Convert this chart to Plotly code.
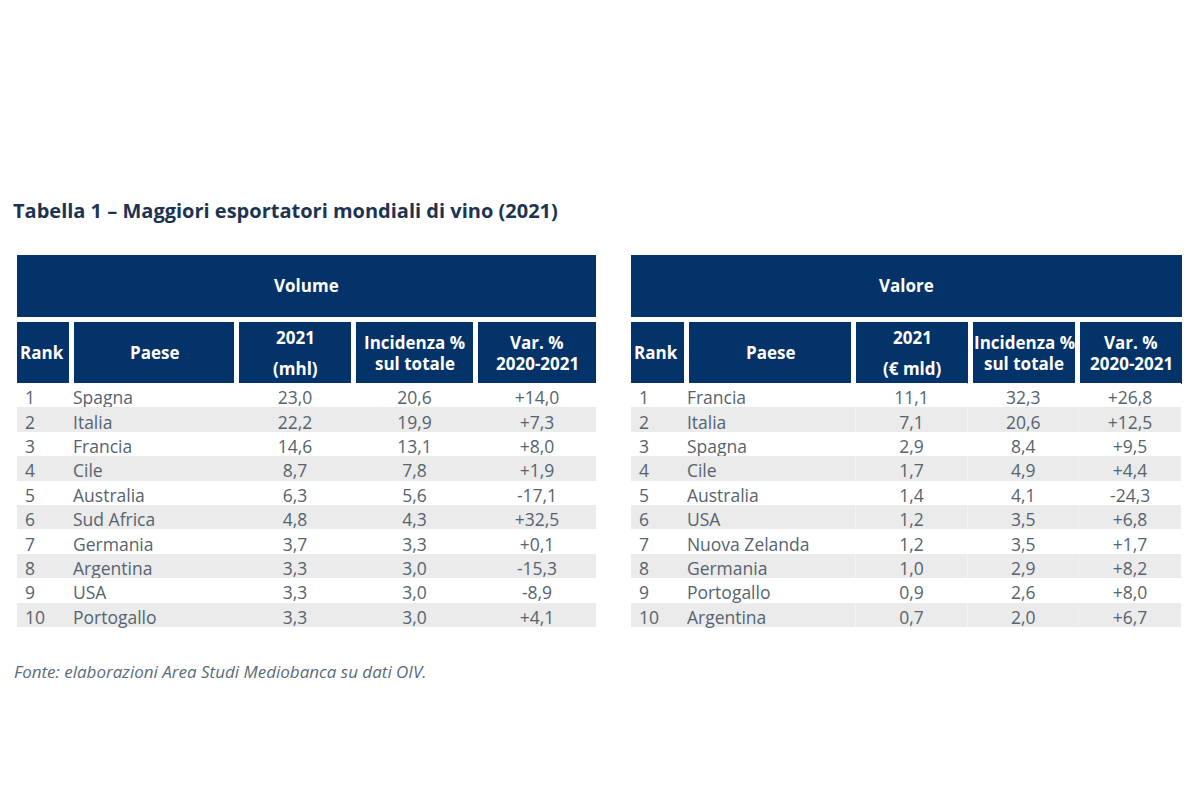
import plotly.graph_objects as go

# ---------------- data ----------------
rank = list(range(1, 11))

vol_paese = ["Spagna", "Italia", "Francia", "Cile", "Australia", "Sud Africa",
             "Germania", "Argentina", "USA", "Portogallo"]
vol_2021 = [23.0, 22.2, 14.6, 8.7, 6.3, 4.8, 3.7, 3.3, 3.3, 3.3]
vol_inc = [20.6, 19.9, 13.1, 7.8, 5.6, 4.3, 3.3, 3.0, 3.0, 3.0]
vol_var = [14.0, 7.3, 8.0, 1.9, -17.1, 32.5, 0.1, -15.3, -8.9, 4.1]

val_paese = ["Francia", "Italia", "Spagna", "Cile", "Australia", "USA",
             "Nuova Zelanda", "Germania", "Portogallo", "Argentina"]
val_2021 = [11.1, 7.1, 2.9, 1.7, 1.4, 1.2, 1.2, 1.0, 0.9, 0.7]
val_inc = [32.3, 20.6, 8.4, 4.9, 4.1, 3.5, 3.5, 2.9, 2.6, 2.0]
val_var = [26.8, 12.5, 9.5, 4.4, -24.3, 6.8, 1.7, 8.2, 8.0, 6.7]

vol_headers = [["Rank"], ["Paese"], ["2021", "(mhl)"], ["Incidenza %", "sul totale"],
               ["Var. %", "2020-2021"]]
val_headers = [["Rank"], ["Paese"], ["2021", "(€ mld)"], ["Incidenza %", "sul totale"],
               ["Var. %", "2020-2021"]]

title_text = "Tabella 1 – Maggiori esportatori mondiali di vino (2021)"
source_text = "Fonte: elaborazioni Area Studi Mediobanca su dati OIV."

# ---------------- style / layout constants ----------------
NAVY = "#04336a"
GRAY = "#ebebeb"
TXT = "#56636f"
FONT = "Open Sans"
W, H = 1200, 800

BANNER_Y = (255, 317)
HEAD_Y = (322, 384)
BODY_TOP = 384
EMPTY_HEADER = 17   # plotly's empty table header band, kept invisible
ROW_H = 24.4
GAP = 5

# header box widths per table, and body column widths (text columns)
LEFT = dict(x0=17, head_w=[52, 160, 112, 117, 118], body_w=[48, 174, 112, 127, 118])
RIGHT = dict(x0=631, head_w=[53, 162, 112, 102, 102], body_w=[48, 177, 112, 112, 102])


def it(v):
    return f"{v:.1f}".replace(".", ",")


def itsign(v):
    return f"{v:+.1f}".replace(".", ",")


def px(x):
    return x / W


def py(y):
    return 1 - y / H


fills = [["white" if i % 2 == 0 else GRAY for i in range(10)]] * 5

shapes = []
annotations = []
traces = []


def build(side, label, headers, paese, v2021, inc, var):
    x0 = side["x0"]
    hw = side["head_w"]
    x_end = x0 + sum(hw) + GAP * (len(hw) - 1)
    # banner
    shapes.append(dict(type="rect", xref="paper", yref="paper", x0=px(x0), x1=px(x_end),
                       y0=py(BANNER_Y[1]), y1=py(BANNER_Y[0]), fillcolor=NAVY,
                       line=dict(width=0), layer="below"))
    annotations.append(dict(text=f"<b>{label}</b>", x=px((x0 + x_end) / 2),
                            y=py(sum(BANNER_Y) / 2), xref="paper", yref="paper",
                            xanchor="center", yanchor="middle", showarrow=False,
                            font=dict(family=FONT, size=17, color="white")))
    # column headers
    cx = x0
    ymid = sum(HEAD_Y) / 2
    for i, (w, lines) in enumerate(zip(hw, headers)):
        shapes.append(dict(type="rect", xref="paper", yref="paper", x0=px(cx), x1=px(cx + w),
                           y0=py(HEAD_Y[1]), y1=py(HEAD_Y[0]), fillcolor=NAVY,
                           line=dict(width=0), layer="below"))
        if len(lines) == 1:
            offs = [0]
        elif lines[0] == "2021":
            offs = [-16, 16]
        else:
            offs = [-10.5, 10.5]
        for ln, o in zip(lines, offs):
            if i == 0:
                ax, anc = cx + 1, "left"
            else:
                ax, anc = cx + w / 2, "center"
            annotations.append(dict(text=f"<b>{ln}</b>", x=px(ax), y=py(ymid + o),
                                    xref="paper", yref="paper", xanchor=anc,
                                    yanchor="middle", showarrow=False,
                                    font=dict(family=FONT, size=17, color="white")))
        cx += w + GAP
    # body
    top = BODY_TOP - EMPTY_HEADER
    traces.append(go.Table(
        domain=dict(x=[px(x0), px(x_end)], y=[py(top + EMPTY_HEADER + 10 * ROW_H + 40), py(top)]),
        columnwidth=side["body_w"],
        header=dict(values=[], fill_color="rgba(0,0,0,0)",
                    line=dict(color="rgba(0,0,0,0)", width=0)),
        cells=dict(values=[[str(r) for r in rank], paese,
                           [it(v) for v in v2021], [it(v) for v in inc],
                           [itsign(v) for v in var]],
                   height=ROW_H, fill_color=fills,
                   line=dict(color="rgba(0,0,0,0)", width=0),
                   align=["left", "left", "center", "center", "center"],
                   font=dict(family=FONT, size=17.5, color=TXT)),
    ))


build(LEFT, "Volume", vol_headers, vol_paese, vol_2021, vol_inc, vol_var)
build(RIGHT, "Valore", val_headers, val_paese, val_2021, val_inc, val_var)

annotations.append(dict(text=f"<b>{title_text}</b>", x=px(11), y=py(211), xref="paper",
                        yref="paper", xanchor="left", yanchor="middle", showarrow=False,
                        font=dict(family=FONT, size=20, color="#1c3452")))
annotations.append(dict(text=f"<i>{source_text}</i>", x=px(12), y=py(671), xref="paper",
                        yref="paper", xanchor="left", yanchor="middle", showarrow=False,
                        font=dict(family=FONT, size=17, color="#5b6b7b")))

fig = go.Figure(traces)
fig.update_layout(
    width=W, height=H,
    margin=dict(l=0, r=0, t=0, b=0),
    paper_bgcolor="white",
    shapes=shapes,
    annotations=annotations,
)

fig.write_html("out.html", config={"displayModeBar": False},
               post_script="document.body.style.margin='0';")
